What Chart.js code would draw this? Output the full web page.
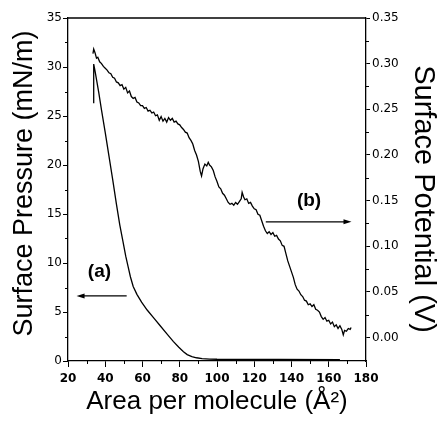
<!DOCTYPE html>
<html><head><meta charset="utf-8">
<script src="https://cdn.jsdelivr.net/npm/chart.js@4/dist/chart.umd.min.js"></script>
<style>html,body{margin:0;padding:0;background:#fff}canvas{display:block}</style>
</head><body>
<canvas id="c" width="438" height="421"></canvas>
<script>
// (a) surface pressure isotherm
const pressureArea  = [33.8, 33.8, 34.5, 35.5, 36.5, 38, 40, 42, 44, 46, 47.8, 49.5, 51, 52.3, 53.5, 55, 57, 59.5, 62.5, 66, 69.5, 73, 76.5, 79.5, 82, 84, 86.5, 89, 92, 96, 100, 166];
const pressureValue = [26.3, 30.3, 29.6, 28.5, 27.4, 25.6, 23.3, 20.9, 18.5, 16.0, 13.9, 12.2, 10.7, 9.6, 8.6, 7.6, 6.8, 6.0, 5.2, 4.4, 3.6, 2.8, 2.0, 1.4, 0.95, 0.65, 0.45, 0.33, 0.25, 0.2, 0.18, 0.15];

// (b) surface potential
const potentialArea = [33.4, 33.8, 34.5, 35.3, 36, 37, 38, 39, 40, 41, 42, 43, 44, 45, 46, 47, 48, 49, 50, 51, 52, 53, 54, 55, 56, 57, 58, 59, 60, 61, 62, 63, 64, 65, 66, 67, 68, 69, 70, 71, 72, 73, 74, 75, 76, 77, 78, 79, 80, 81, 82, 83, 84, 85, 86, 87, 88, 89, 90, 91, 91.7, 92.5, 93.5, 94.5, 95.3, 96, 97, 98, 99, 100, 101, 102, 103, 104, 105, 106, 107, 108, 109, 110, 111, 112, 113, 113.5, 114.3, 115, 116, 117, 118, 119, 120, 121, 122, 123, 124, 125, 126, 127, 128, 129, 130, 131, 132, 133, 134, 135, 136, 137, 138, 139, 140, 141, 142, 143, 144, 145, 146, 147, 148, 149, 150, 151, 152, 153, 154, 155, 156, 157, 158, 159, 160, 161, 162, 163, 164, 165, 166, 167, 167.8, 168.5, 169.5, 170.5, 171.5, 172];
const potentialValue = [0.311, 0.316, 0.312, 0.306, 0.307, 0.302, 0.300, 0.297, 0.295, 0.293, 0.290, 0.289, 0.285, 0.284, 0.280, 0.279, 0.276, 0.277, 0.272, 0.274, 0.268, 0.270, 0.264, 0.262, 0.263, 0.258, 0.257, 0.254, 0.254, 0.251, 0.252, 0.248, 0.249, 0.246, 0.247, 0.243, 0.244, 0.238, 0.242, 0.237, 0.240, 0.236, 0.241, 0.238, 0.240, 0.236, 0.237, 0.234, 0.233, 0.230, 0.228, 0.225, 0.224, 0.219, 0.216, 0.212, 0.205, 0.200, 0.193, 0.182, 0.177, 0.185, 0.190, 0.188, 0.192, 0.189, 0.187, 0.183, 0.176, 0.171, 0.165, 0.163, 0.158, 0.156, 0.152, 0.148, 0.146, 0.147, 0.145, 0.148, 0.146, 0.149, 0.152, 0.159, 0.154, 0.151, 0.152, 0.147, 0.148, 0.144, 0.141, 0.140, 0.135, 0.134, 0.128, 0.122, 0.117, 0.114, 0.116, 0.113, 0.115, 0.111, 0.112, 0.108, 0.106, 0.101, 0.100, 0.092, 0.084, 0.078, 0.072, 0.066, 0.058, 0.053, 0.051, 0.047, 0.045, 0.041, 0.040, 0.036, 0.037, 0.034, 0.036, 0.031, 0.030, 0.028, 0.023, 0.020, 0.022, 0.018, 0.019, 0.015, 0.017, 0.012, 0.014, 0.010, 0.013, 0.009, 0.003, 0.008, 0.007, 0.010, 0.009, 0.011];

// tick labels
const areaTicks = [20, 40, 60, 80, 100, 120, 140, 160, 180];
const pressureTicks = [0, 5, 10, 15, 20, 25, 30, 35];
const potentialTicks = [0.00, 0.05, 0.10, 0.15, 0.20, 0.25, 0.30, 0.35];
const areaMinorTicks = [30, 50, 70, 90, 110, 130, 150, 170];
const pressureMinorTicks = [2.5, 7.5, 12.5, 17.5, 22.5, 27.5, 32.5];
const potentialMinorTicks = [0.025, 0.075, 0.125, 0.175, 0.225, 0.275, 0.325];

// annotation labels (text and arrow, in data units of the left axis)
const annotationLabels = ['(a)', '(b)'];
const annotationAt = [[36.9, 9.1], [149.4, 16.4]];
const arrowFrom = [[51.5, 6.64], [126.2, 14.2]];
const arrowTo = [[24.6, 6.64], [172.2, 14.2]];

const FONT = "'Liberation Sans', Arial, sans-serif";
const TICKFONT = "'DejaVu Sans', sans-serif";

const toPoints = (xs, ys) => xs.map((x, i) => ({x, y: ys[i]}));

const framePlugin = {
  id: 'frameMinor',
  afterDraw(chart) {
    const {ctx, chartArea: {left, right, top, bottom}, scales: {x, y, y1}} = chart;
    ctx.save();
    ctx.strokeStyle = '#000';
    ctx.lineWidth = 1.3;
    ctx.beginPath();
    ctx.moveTo(left, top); ctx.lineTo(right, top);
    ctx.stroke();
    ctx.lineWidth = 1;
    ctx.beginPath();
    areaMinorTicks.forEach(v => { const p = Math.round(x.getPixelForValue(v)) + 0.5; ctx.moveTo(p, bottom); ctx.lineTo(p, bottom + 3); });
    pressureMinorTicks.forEach(v => { const p = Math.round(y.getPixelForValue(v)) + 0.5; ctx.moveTo(left, p); ctx.lineTo(left - 3, p); });
    potentialMinorTicks.forEach(v => { const p = Math.round(y1.getPixelForValue(v)) + 0.5; ctx.moveTo(right, p); ctx.lineTo(right + 3, p); });
    ctx.stroke();
    ctx.restore();
  }
};

const annotationPlugin = {
  id: 'annot',
  afterDatasetsDraw(chart) {
    const {ctx, scales: {x, y}} = chart;
    ctx.save();
    ctx.fillStyle = '#000';
    ctx.strokeStyle = '#000';
    ctx.font = 'bold 19px ' + FONT;
    ctx.textAlign = 'center';
    ctx.textBaseline = 'middle';
    annotationLabels.forEach((t, i) => {
      ctx.fillText(t, x.getPixelForValue(annotationAt[i][0]), y.getPixelForValue(annotationAt[i][1]));
    });
    ctx.lineWidth = 1.3;
    arrowFrom.forEach((f, i) => {
      const x0 = x.getPixelForValue(f[0]), y0 = y.getPixelForValue(f[1]);
      const x1 = x.getPixelForValue(arrowTo[i][0]), y1p = y.getPixelForValue(arrowTo[i][1]);
      const dir = Math.sign(x1 - x0);
      ctx.beginPath(); ctx.moveTo(x0, y0); ctx.lineTo(x1 - dir * 4, y1p); ctx.stroke();
      ctx.beginPath();
      ctx.moveTo(x1, y1p);
      ctx.lineTo(x1 - dir * 8, y1p - 2.5);
      ctx.lineTo(x1 - dir * 8, y1p + 2.5);
      ctx.closePath(); ctx.fill();
    });
    ctx.restore();
  }
};

// shift axis titles along their axis to match the reference placement
const titleShift = {y: -6, y1: 9.5};
const titleShiftPlugin = {
  id: 'titleShift',
  afterLayout(chart) {
    Object.keys(titleShift).forEach(id => {
      const s = chart.scales[id];
      if (!s || s._shifted) return;
      const orig = s.drawTitle.bind(s);
      s.drawTitle = function () {
        const t = this.top, b = this.bottom;
        this.top = t + titleShift[id]; this.bottom = b + titleShift[id];
        orig();
        this.top = t; this.bottom = b;
      };
      s._shifted = true;
    });
  }
};

new Chart(document.getElementById('c'), {
  type: 'scatter',
  data: {
    datasets: [
      {label: 'Surface Pressure', data: toPoints(pressureArea, pressureValue), yAxisID: 'y', showLine: true, borderColor: '#000', borderWidth: 1.3, pointRadius: 0, tension: 0},
      {label: 'Surface Potential', data: toPoints(potentialArea, potentialValue), yAxisID: 'y1', showLine: true, borderColor: '#000', borderWidth: 1.3, pointRadius: 0, tension: 0}
    ]
  },
  options: {
    responsive: false,
    devicePixelRatio: 1,
    animation: false,
    layout: {padding: {top: 18, left: 0, right: 0, bottom: 0}},
    plugins: {legend: {display: false}, tooltip: {enabled: false}},
    scales: {
      x: {
        type: 'linear', min: 20, max: 180,
        afterBuildTicks: s => { s.ticks = areaTicks.map(v => ({value: v})); },
        afterFit: s => { s.height = 60; },
        ticks: {font: {family: TICKFONT, size: 12, weight: 'bold'}, color: '#000', padding: 5, maxRotation: 0, autoSkip: false},
        grid: {drawOnChartArea: false, drawTicks: true, tickLength: 6, tickColor: '#000', tickWidth: 1},
        border: {display: true, color: '#000', width: 1.3},
        title: {display: true, text: 'Area per molecule (Å²)', color: '#000', font: {family: FONT, size: 26, lineHeight: 1.2}, padding: {top: 0, bottom: 4}}
      },
      y: {
        type: 'linear', position: 'left', min: 0, max: 35,
        afterBuildTicks: s => { s.ticks = pressureTicks.map(v => ({value: v})); },
        afterFit: s => { s.width = 68; },
        ticks: {font: {family: TICKFONT, size: 12}, color: '#000', padding: 1, autoSkip: false},
        grid: {drawOnChartArea: false, drawTicks: true, tickLength: 5, tickColor: '#000', tickWidth: 1},
        border: {display: true, color: '#000', width: 1.3},
        title: {display: true, text: 'Surface Pressure (mN/m)', color: '#000', font: {family: FONT, size: 27, lineHeight: 1.2}, padding: {top: 8.8, bottom: 0}}
      },
      y1: {
        type: 'linear', position: 'right', min: -0.0256, max: 0.35,
        afterBuildTicks: s => { s.ticks = potentialTicks.map(v => ({value: v})); },
        afterFit: s => { s.width = 72; },
        ticks: {font: {family: TICKFONT, size: 12}, color: '#000', padding: 2, autoSkip: false, callback: v => v.toFixed(2)},
        grid: {drawOnChartArea: false, drawTicks: true, tickLength: 4, tickColor: '#000', tickWidth: 1},
        border: {display: true, color: '#000', width: 1.3},
        title: {display: true, text: 'Surface Potential (V)', color: '#000', font: {family: FONT, size: 29, lineHeight: 1}, padding: {top: 1, bottom: 0}}
      }
    }
  },
  plugins: [framePlugin, annotationPlugin, titleShiftPlugin]
});
</script>
</body></html>
